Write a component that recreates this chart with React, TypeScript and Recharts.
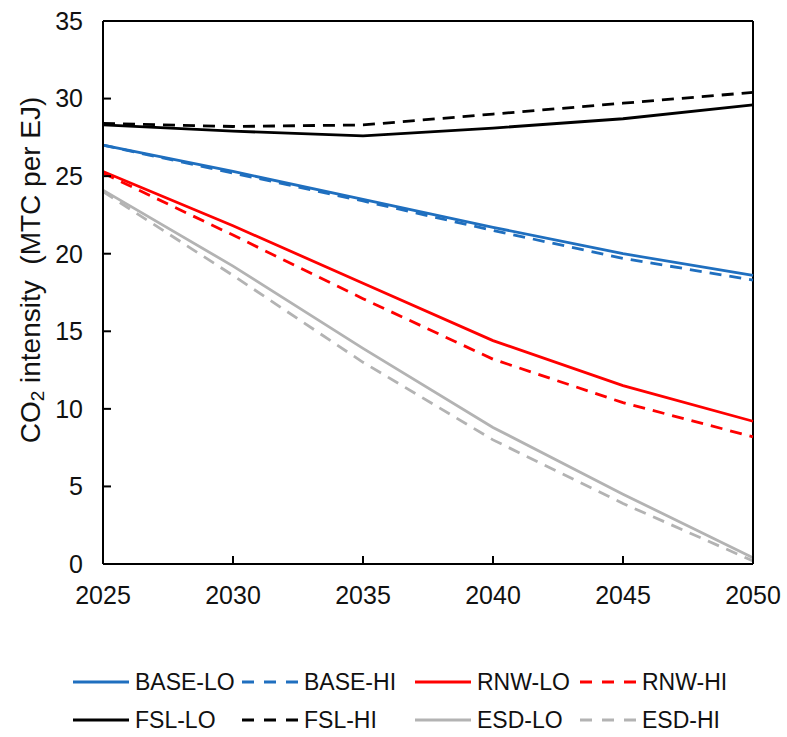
import React from "react";
import { LineChart, Line, XAxis, YAxis, ReferenceLine } from "recharts";

const years = [2025, 2030, 2035, 2040, 2045, 2050];
const yTicks = [0, 5, 10, 15, 20, 25, 30, 35];

const baseLo = [27.0, 25.3, 23.5, 21.7, 20.0, 18.6];
const baseHi = [27.0, 25.2, 23.4, 21.5, 19.7, 18.3];
const rnwLo = [25.3, 21.8, 18.1, 14.4, 11.5, 9.2];
const rnwHi = [25.2, 21.2, 17.1, 13.2, 10.4, 8.2];
const fslLo = [28.3, 27.9, 27.6, 28.1, 28.7, 29.6];
const fslHi = [28.4, 28.2, 28.3, 29.0, 29.7, 30.4];
const esdLo = [24.1, 19.2, 13.9, 8.8, 4.5, 0.4];
const esdHi = [24.0, 18.6, 13.0, 8.0, 3.9, 0.2];

const FONT = '"Liberation Sans", Arial, sans-serif';
const BLUE = "#1F6FBF";
const RED = "#FF0000";
const BLACK = "#000000";
const GRAY = "#B3B3B3";

const series = [
  { key: "BASE-LO", values: baseLo, color: BLUE, dashed: false },
  { key: "BASE-HI", values: baseHi, color: BLUE, dashed: true },
  { key: "RNW-LO", values: rnwLo, color: RED, dashed: false },
  { key: "RNW-HI", values: rnwHi, color: RED, dashed: true },
  { key: "FSL-LO", values: fslLo, color: BLACK, dashed: false },
  { key: "FSL-HI", values: fslHi, color: BLACK, dashed: true },
  { key: "ESD-LO", values: esdLo, color: GRAY, dashed: false },
  { key: "ESD-HI", values: esdHi, color: GRAY, dashed: true },
];

const data = years.map((year, i) => {
  const row: Record<string, number> = { year };
  series.forEach((s) => {
    row[s.key] = s.values[i];
  });
  return row;
});

// legend columns (line start x) and rows (center y)
const legendCols = [73, 242, 415, 580];
const legendRows = [682, 720];

function YLabel() {
  const cx = 30;
  const cy = 270;
  return (
    <text
      x={cx}
      y={cy}
      transform={`rotate(-90, ${cx}, ${cy})`}
      textAnchor="middle"
      dominantBaseline="central"
      fontFamily={FONT}
      fontSize={28}
      fill="#111"
    >
      CO
      <tspan fontSize={19} dy={7}>2</tspan>
      <tspan dy={-7}> intensity {"\u00a0"}(MTC per EJ)</tspan>
    </text>
  );
}

function LegendBox() {
  return (
    <div style={{ position: "absolute", left: 0, top: 0, width: 787, height: 737, pointerEvents: "none" }}>
      {series.map((s, i) => {
        const col = i % 4;
        const row = Math.floor(i / 4);
        const x = legendCols[col];
        const y = legendRows[row];
        return (
          <div
            key={s.key}
            style={{
              position: "absolute",
              left: x,
              top: y - 14,
              height: 28,
              display: "flex",
              alignItems: "center",
              fontFamily: FONT,
              fontSize: 23,
              color: "#111",
              whiteSpace: "nowrap",
            }}
          >
            <svg width={56} height={10} style={{ marginRight: 6 }}>
              <line
                x1={0}
                y1={5}
                x2={56}
                y2={5}
                stroke={s.color}
                strokeWidth={3}
                strokeDasharray={s.dashed ? "12 10" : undefined}
              />
            </svg>
            {s.key}
          </div>
        );
      })}
    </div>
  );
}

export default function App() {
  return (
    <div style={{ position: "absolute", left: 0, top: 0, width: 787, height: 737, background: "#fff" }}>
      <LineChart
        width={787}
        height={737}
        data={data}
        margin={{ top: 21, right: 34, bottom: 0, left: 0 }}
      >
        <XAxis
          dataKey="year"
          type="number"
          domain={[2025, 2050]}
          ticks={years}
          interval={0}
          height={173}
          tickSize={-8}
          tickMargin={30}
          axisLine={{ stroke: BLACK, strokeWidth: 2 }}
          tickLine={{ stroke: BLACK, strokeWidth: 2 }}
          tick={{ fontFamily: FONT, fontSize: 25, fill: "#111" }}
        />
        <YAxis
          type="number"
          domain={[0, 35]}
          ticks={yTicks}
          interval={0}
          width={103}
          tickSize={-8}
          tickMargin={28}
          axisLine={{ stroke: BLACK, strokeWidth: 2 }}
          tickLine={{ stroke: BLACK, strokeWidth: 2 }}
          tick={{ fontFamily: FONT, fontSize: 25, fill: "#111" }}
          label={<YLabel />}
        />
        <ReferenceLine y={35} stroke={BLACK} strokeWidth={2} />
        <ReferenceLine x={2050} stroke={BLACK} strokeWidth={2} />
        {series.map((s) => (
          <Line
            key={s.key}
            dataKey={s.key}
            type="linear"
            stroke={s.color}
            strokeWidth={2.8}
            strokeDasharray={s.dashed ? "12 8" : undefined}
            dot={false}
            activeDot={false}
            isAnimationActive={false}
          />
        ))}
      </LineChart>
      <LegendBox />
    </div>
  );
}
